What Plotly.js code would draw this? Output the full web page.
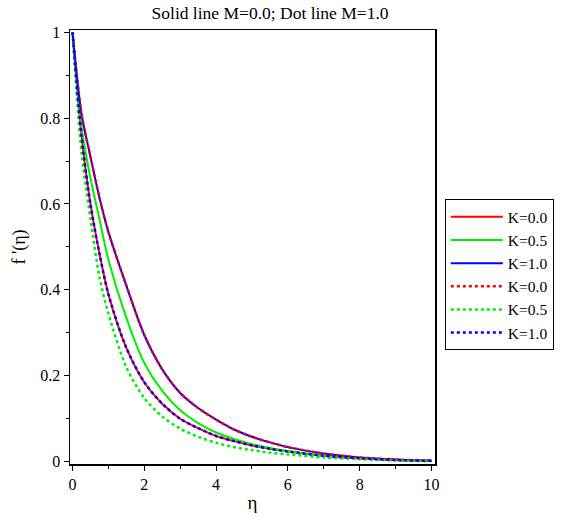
<!DOCTYPE html>
<html>
<head>
<meta charset="utf-8">
<script src="https://cdn.plot.ly/plotly-3.0.1.min.js"></script>
<style>html,body{margin:0;padding:0;background:#fff;}#chart{width:565px;height:518px;}</style>
</head>
<body>
<div id="chart"></div>
<script>
var eta = [0, 0.25, 0.5, 0.75, 1, 1.5, 2, 2.5, 3, 3.5, 4, 4.5, 5, 5.5, 6, 7, 8, 9, 10];
// Solid lines, M = 0.0
var solidK00 = [1, 0.76, 0.60, 0.485, 0.39, 0.265, 0.185, 0.135, 0.100, 0.078, 0.060, 0.048, 0.038, 0.030, 0.024, 0.014, 0.008, 0.004, 0.002];
var solidK05 = [1, 0.78, 0.66, 0.565, 0.47, 0.335, 0.230, 0.165, 0.120, 0.090, 0.068, 0.053, 0.041, 0.032, 0.025, 0.014, 0.008, 0.004, 0.002];
var solidK10 = [1, 0.81, 0.71, 0.615, 0.535, 0.41, 0.295, 0.215, 0.160, 0.125, 0.098, 0.075, 0.058, 0.045, 0.034, 0.019, 0.010, 0.005, 0.002];
// Dotted lines, M = 1.0
var dotK00 = [1, 0.81, 0.71, 0.615, 0.535, 0.41, 0.295, 0.215, 0.160, 0.125, 0.098, 0.075, 0.058, 0.045, 0.034, 0.019, 0.010, 0.005, 0.002];
var dotK05 = [1, 0.72, 0.565, 0.43, 0.345, 0.22, 0.148, 0.105, 0.077, 0.058, 0.044, 0.034, 0.027, 0.021, 0.017, 0.010, 0.006, 0.003, 0.001];
var dotK10 = [1, 0.76, 0.60, 0.485, 0.39, 0.265, 0.185, 0.135, 0.100, 0.078, 0.060, 0.048, 0.038, 0.030, 0.024, 0.014, 0.008, 0.004, 0.002];
var legendNames = ['K=0.0', 'K=0.5', 'K=1.0', 'K=0.0', 'K=0.5', 'K=1.0'];
var colors = ['#ff0000', '#00ee00', '#0000ff'];

var series = [solidK00, solidK05, solidK10, dotK00, dotK05, dotK10];
var traces = series.map(function (ys, i) {
  return {
    x: eta, y: ys, type: 'scatter', mode: 'lines', name: legendNames[i],
    line: {color: colors[i % 3], width: i < 3 ? 2 : 2.5, dash: i < 3 ? 'solid' : 'dot', shape: 'spline', smoothing: 0.8}
  };
});

var fam = '"Liberation Serif", "Times New Roman", Times, serif';
var layout = {
  width: 565, height: 518,
  margin: {l: 70, r: 130, t: 30, b: 54, autoexpand: false},
  paper_bgcolor: '#fff', plot_bgcolor: '#fff',
  font: {family: fam, color: '#000'},
  title: {text: 'Solid line M=0.0; Dot line M=1.0', xref: 'container', x: 0.478, xanchor: 'center',
          yref: 'container', y: 0.975, yanchor: 'middle',
          font: {family: fam, size: 17.5, color: '#000'}},
  xaxis: {
    range: [-0.07, 10.1], showgrid: false, zeroline: false,
    showline: true, linecolor: '#000', linewidth: 1.5, mirror: true,
    ticks: 'outside', ticklen: 5, tickcolor: '#000', tickvals: [0, 2, 4, 6, 8, 10],
    minor: {ticks: 'outside', ticklen: 3, tickcolor: '#000', tickvals: [1, 3, 5, 7, 9]},
    tickfont: {family: fam, size: 16, color: '#000'},
    title: {text: 'η', font: {family: fam, size: 19, color: '#000'}, standoff: 4}
  },
  yaxis: {
    range: [-0.0053, 1.005], showgrid: false, zeroline: false,
    showline: true, linecolor: '#000', linewidth: 1.5, mirror: true,
    ticks: 'outside', ticklen: 5, tickcolor: '#000', tickvals: [0, 0.2, 0.4, 0.6, 0.8, 1],
    ticktext: ['0', '0.2', '0.4', '0.6', '0.8', '1'],
    minor: {ticks: 'outside', ticklen: 3, tickcolor: '#000', tickvals: [0.1, 0.3, 0.5, 0.7, 0.9]},
    tickfont: {family: fam, size: 16, color: '#000'},
    title: {text: "f '(η)", font: {family: fam, size: 18, color: '#000'}, standoff: 10}
  },
  legend: {
    x: 1.027, y: 0.61, xanchor: 'left', yanchor: 'top',
    bordercolor: '#000', borderwidth: 1, bgcolor: '#fff',
    font: {family: fam, size: 15.5, color: '#000'},
    tracegroupgap: 0, itemwidth: 52
  },
  showlegend: true
};
Plotly.newPlot('chart', traces, layout, {displayModeBar: false, staticPlot: true});
</script>
</body>
</html>
